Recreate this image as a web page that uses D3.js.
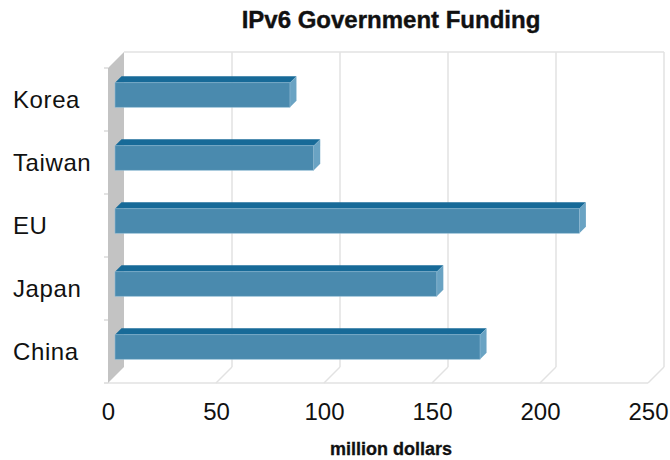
<!DOCTYPE html>
<html>
<head>
<meta charset="utf-8">
<script src="https://cdn.jsdelivr.net/npm/d3@7"></script>
<style>
  body { margin: 0; background: #fff; }
  text { font-family: "Liberation Sans", Arial, Helvetica, sans-serif; fill: #111; }
</style>
</head>
<body>
<svg id="graphic" width="670" height="460"></svg>
<script>
// data (top to bottom)
let categories = ["Korea", "Taiwan", "EU", "Japan", "China"];
let funding = [81, 92, 215, 149, 169];
let xTicks = [0, 50, 100, 150, 200, 250];

let svg = d3.select('#graphic');

// front plane of the 3d box, back wall is shifted by depth
let depth = 16;
let plotLeft = 108, plotRight = 648, plotTop = 68, plotBottom = 383;
// bar sits between these depths
let barZ0 = 7, barZ1 = 13.5;
let barH = 24.5;

let xScale = d3.scaleLinear()
    .domain([0, 250])
    .range([plotLeft, plotRight]);

let yScale = d3.scaleBand()
    .domain(categories)
    .range([plotTop, plotBottom]);

let grid = '#e2e2e2';

// back wall gridlines
svg.append('g')
    .selectAll('line')
    .data(xTicks.slice(1))
    .enter()
    .append('line')
    .attr('x1', d => xScale(d) + depth)
    .attr('x2', d => xScale(d) + depth)
    .attr('y1', plotTop - depth)
    .attr('y2', plotBottom - depth)
    .attr('stroke', grid)
    .attr('stroke-width', 1.5);

svg.append('line')
    .attr('x1', xScale(0) + depth)
    .attr('x2', xScale(250) + depth)
    .attr('y1', plotTop - depth)
    .attr('y2', plotTop - depth)
    .attr('stroke', grid)
    .attr('stroke-width', 1.5);

// floor
svg.append('line')
    .attr('x1', xScale(0))
    .attr('x2', xScale(250))
    .attr('y1', plotBottom)
    .attr('y2', plotBottom)
    .attr('stroke', grid)
    .attr('stroke-width', 1.5);

svg.append('g')
    .selectAll('line')
    .data(xTicks.slice(1))
    .enter()
    .append('line')
    .attr('x1', d => xScale(d))
    .attr('x2', d => xScale(d) + depth)
    .attr('y1', plotBottom)
    .attr('y2', plotBottom - depth)
    .attr('stroke', grid)
    .attr('stroke-width', 1.5);

// left side wall
svg.append('path')
    .attr('d', `M${plotLeft},${plotTop}L${plotLeft + depth},${plotTop - depth}L${plotLeft + depth},${plotBottom - depth}L${plotLeft},${plotBottom}Z`)
    .attr('fill', '#c3c3c3');

// little ticks on the left edge between categories
let bounds = categories.map(c => yScale(c)).concat([plotBottom]);
svg.append('g')
    .selectAll('line')
    .data(bounds)
    .enter()
    .append('line')
    .attr('x1', plotLeft - 4)
    .attr('x2', plotLeft)
    .attr('y1', d => d)
    .attr('y2', d => d)
    .attr('stroke', '#d0d0d0')
    .attr('stroke-width', 1.2);

// bars
let bars = svg.append('g')
    .selectAll('g')
    .data(categories.map((c, i) => ({category: c, value: funding[i]})))
    .enter()
    .append('g');

let d = barZ1 - barZ0;
function geo(b) {
    let yc = yScale(b.category) + yScale.bandwidth() / 2 - barZ0 + 2.5;
    return {
        x0: xScale(0) + barZ0,
        x1: xScale(b.value) + barZ0,
        yt: yc - barH / 2,
        yb: yc + barH / 2
    };
}

bars.append('path')
    .attr('d', b => {
        let g = geo(b);
        return `M${g.x0},${g.yt}L${g.x0 + d},${g.yt - d}L${g.x1 + d},${g.yt - d}L${g.x1},${g.yt}Z`;
    })
    .attr('fill', '#176a98');

bars.append('path')
    .attr('d', b => {
        let g = geo(b);
        return `M${g.x1},${g.yt}L${g.x1 + d},${g.yt - d}L${g.x1 + d},${g.yb - d}L${g.x1},${g.yb}Z`;
    })
    .attr('fill', '#6aa3c3');

bars.append('rect')
    .attr('x', b => geo(b).x0)
    .attr('y', b => geo(b).yt)
    .attr('width', b => geo(b).x1 - geo(b).x0)
    .attr('height', barH)
    .attr('fill', '#4a8aae')
    .attr('stroke', '#8fbad3')
    .attr('stroke-width', 0.6);

// category labels
svg.append('g')
    .selectAll('text')
    .data(categories)
    .enter()
    .append('text')
    .attr('x', 13)
    .attr('y', c => yScale(c) + yScale.bandwidth() / 2 + 8.5)
    .attr('font-size', 24)
    .attr('letter-spacing', 0.6)
    .text(c => c);

// x tick labels
svg.append('g')
    .selectAll('text')
    .data(xTicks)
    .enter()
    .append('text')
    .attr('x', v => xScale(v) + 0.5)
    .attr('y', 420)
    .attr('text-anchor', 'middle')
    .attr('font-size', 24)
    .text(v => v);

svg.append('text')
    .attr('x', 391)
    .attr('y', 28)
    .attr('text-anchor', 'middle')
    .attr('font-size', 24)
    .attr('font-weight', 'bold')
    .attr('stroke', '#111')
    .attr('stroke-width', 0.4)
    .text('IPv6 Government Funding');

svg.append('text')
    .attr('x', 391)
    .attr('y', 455)
    .attr('text-anchor', 'middle')
    .attr('font-size', 18)
    .attr('font-weight', 'bold')
    .attr('stroke', '#111')
    .attr('stroke-width', 0.3)
    .text('million dollars');
</script>
</body>
</html>
